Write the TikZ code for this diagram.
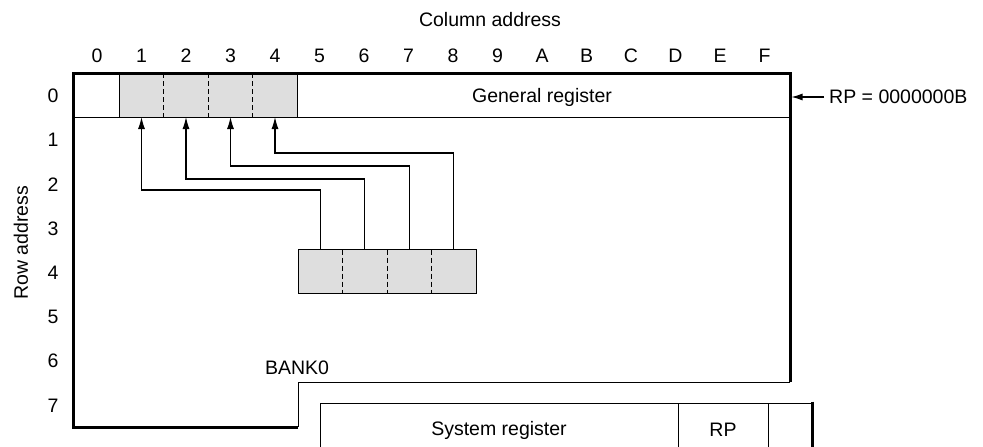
\documentclass[tikz,border=0pt]{standalone}
\usepackage{fontspec}
\setmainfont{Liberation Sans}
\usetikzlibrary{arrows.meta}
\begin{document}
\begin{tikzpicture}[x=1pt,y=-1pt,
  lbl/.style={font=\fontsize{19.5}{21}\selectfont, inner sep=0pt},
  cell/.style={fill=black!13, minimum width=44.5pt, minimum height=44pt, inner sep=0pt, outer sep=0pt},
  thick line/.style={line width=3pt},
  thin line/.style={line width=1pt},
  divider/.style={line width=1pt, dash pattern=on 5pt off 3pt},
  arr/.style={line width=1.1pt, -{Latex[length=12pt,width=7pt]}}]
\useasboundingbox (0,0) rectangle (983,447);

% titles
\node[lbl] (coltitle) at (490,20) {Column address};
\node[lbl, rotate=90] (rowtitle) at (21,243) {Row address};

% column labels
\foreach \t [count=\i from 0] in {0,1,2,3,4,5,6,7,8,9,A,B,C,D,E,F}
  \node[lbl] (col\i) at ({97+44.5*\i},56) {\t};
% row labels
\foreach \i in {0,...,7}
  \node[lbl] (row\i) at (53,{96+44.2*\i}) {\i};

% shaded cells, row 0
\foreach \i in {1,...,4}
  \node[cell] (t\i) at ({97+44.5*\i},95) {};
% shaded cells, row 4
\foreach \i in {1,...,4}
  \node[cell] (b\i) at ({320.25+44.5*(\i-1)},271.5) {};

% row 0 internal lines
\draw[thin line] (73,117) -- (790,117);
\draw[thin line] (t1.north west) -- (t1.south west);
\draw[thin line] (t4.north east) -- (t4.south east);
\foreach \i in {1,2,3}
  \draw[divider] (t\i.north east) -- (t\i.south east);
\node[lbl] (general) at (542,97) {General register};

% lower shaded block
\draw[thin line] (b1.north west) rectangle (b4.south east);
\foreach \i in {1,2,3}
  \draw[divider] (b\i.north east) -- (b\i.south east);

% main outline
\draw[thick line] (298,427) -- (73,427) -- (73,73) -- (790,73) -- (790,382);
\draw[thin line] (790,382) -- (298,382) -- (298,427);
\node[lbl] (bank) at (297,368) {BANK0};

% connectors
\coordinate (h1) at (t1.south |- 0,190);
\coordinate (h2) at (t2.south |- 0,179);
\coordinate (h3) at (t3.south |- 0,166);
\coordinate (h4) at (t4.south |- 0,153);
\foreach \i in {1,...,4}
  \draw[arr] (b\i.north) |- (h\i) -- (t\i.south);

% RP pointer
\node[lbl, anchor=west] (rp) at (829,97) {RP = 0000000B};
\coordinate (rpend) at (791.5,97);
\draw[arr, -{Latex[length=11pt,width=7pt]}] (rp.west) ++(-5,0) -- (rpend);

% system register box
\draw[thin line] (320,460) -- (320,403) -- (812,403);
\draw[thin line] (678,403) -- (678,460);
\draw[thin line] (768,403) -- (768,460);
\draw[thick line] (812,401.5) -- (812,460);
\node[lbl] (sysreg) at (499,430) {System register};
\node[lbl] (rpcell) at (723,430) {RP};
\end{tikzpicture}
\end{document}
